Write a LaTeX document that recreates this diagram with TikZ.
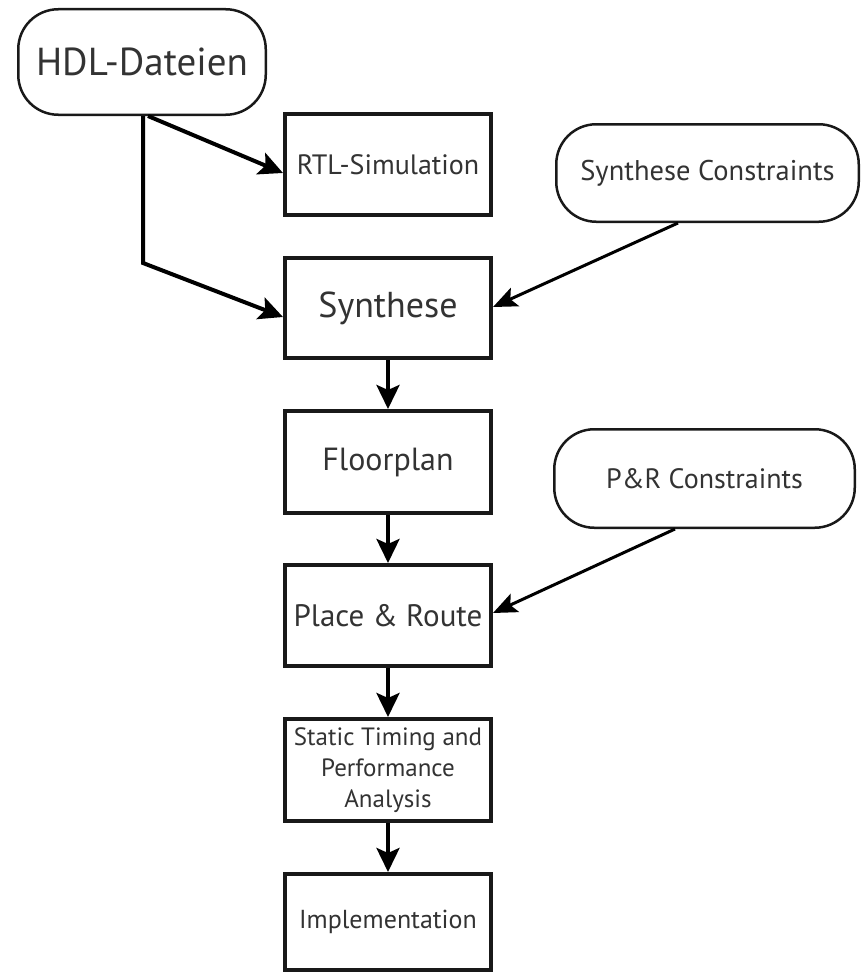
\documentclass[tikz,border=0pt]{standalone}
\usepackage{fontspec}
\setmainfont{PT Sans}
\usetikzlibrary{arrows.meta,calc}
\begin{document}
\begin{tikzpicture}[x=1pt,y=-1pt,
  box/.style={draw=black!90, line width=4pt, minimum width=206pt, inner sep=0pt, text=black!80, align=center},
  rbox/.style={draw=black!90, line width=2.5pt, rounded corners=40pt, inner sep=0pt, text=black!80, align=center},
  fs/.style={font=\fontsize{#1}{31}\selectfont},
  arr/.style={line width=4pt, line join=miter, -{Stealth[length=24pt,width=23pt,inset=5pt]}},
  thinarr/.style={line width=3pt, -{Stealth[length=24pt,width=20pt,inset=5pt]}}
]
\useasboundingbox (0,0) rectangle (863,974);
\fill[white] (0,0) rectangle (863,974);

\node[rbox, minimum width=247.5pt, minimum height=105.5pt, fs=39] (hdl) at (142,62) {HDL-Dateien};
\node[box, fs=28, minimum height=101pt] (rtl) at (388,164.5) {RTL-Simulation};
\node[box, fs=36, minimum height=100pt] (syn) at (388,308) {Synthese};
\node[box, fs=32, minimum height=102pt] (flp) at (388,462) {Floorplan};
\node[box, fs=31, minimum height=101pt] (pr) at (388,615.5) {Place \& Route};
\node[box, fs=25, minimum height=102pt] (sta) at (388,770) {Static Timing and\\Performance\\Analysis};
\node[box, fs=26, minimum height=96pt] (imp) at (388,922) {Implementation};
\node[rbox, fs=28.5, minimum width=302.5pt, minimum height=97.5pt] (sc) at (707.5,173) {Synthese Constraints};
\node[rbox, fs=28, minimum width=300.5pt, minimum height=98.5pt] (prc) at (704.5,478.5) {P\&R Constraints};

\draw[arr] ($(hdl.south)+(6,0)$) -- ($(rtl.west)+(0,8.5)$);
\draw[arr] ($(hdl.south)+(1,0)$) -- ++(0,147) -- ($(syn.west)+(0,9)$);
\draw[thinarr] ($(sc.south)+(-29.5,0)$) -- ($(syn.east)+(0,-1)$);
\draw[thinarr] ($(prc.south)+(-29.5,0)$) -- ($(pr.east)+(0,-2.5)$);
\draw[arr] (syn) -- (flp);
\draw[arr] (flp) -- (pr);
\draw[arr] (pr) -- (sta);
\draw[arr] (sta) -- (imp);
\end{tikzpicture}
\end{document}
